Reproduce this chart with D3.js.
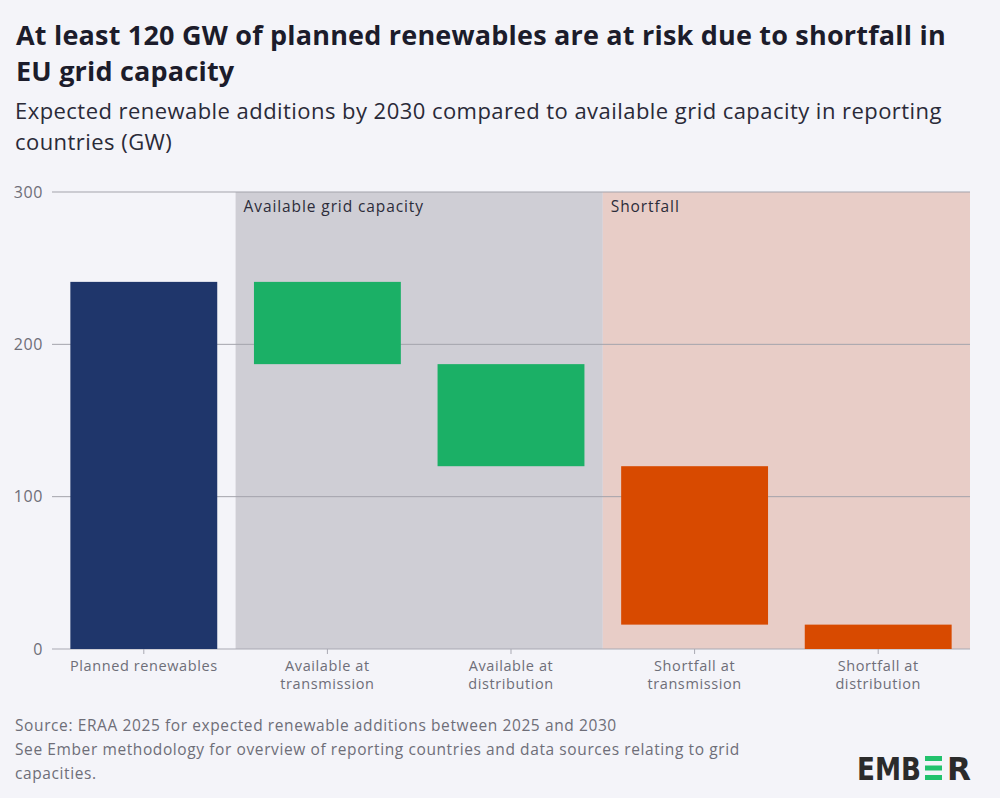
<!DOCTYPE html>
<html>
<head>
<meta charset="utf-8">
<script src="https://cdn.jsdelivr.net/npm/d3@7"></script>
<style>
  body { margin: 0; background: #f4f4f9; }
  svg { display: block; font-family: "Open Sans", "Inter", sans-serif; }
</style>
</head>
<body>
<div id="chart"></div>
<script>
const categories = [
  ["Planned renewables"],
  ["Available at", "transmission"],
  ["Available at", "distribution"],
  ["Shortfall at", "transmission"],
  ["Shortfall at", "distribution"]
];
const barTops = [241, 241, 187, 120, 16];
const barBottoms = [0, 187, 120, 16, 0];
const barKinds = ["planned", "available", "available", "shortfall", "shortfall"];
const yTicks = [0, 100, 200, 300];
const regions = [
  { label: "Available grid capacity", from: 1, to: 2, kind: "available" },
  { label: "Shortfall", from: 3, to: 4, kind: "shortfall" }
];

const width = 1000, height = 798;
const margin = { left: 52, right: 30, top: 192, bottom: 149 };
const colors = { planned: "#1f366b", available: "#1bb066", shortfall: "#d84a00" };
const regionFill = { available: "#cfced5", shortfall: "#e8cdc7" };

const svg = d3.select("#chart").append("svg")
  .attr("width", width).attr("height", height);

svg.append("rect").attr("width", width).attr("height", height).attr("fill", "#f4f4f9");

// title + subtitle
const title = svg.append("text").attr("fill", "#1c1c2b")
  .style("font-weight", 700).style("font-size", "27px").style("letter-spacing", "0.2px");
title.append("tspan").attr("x", 16).attr("y", 45)
  .text("At least 120 GW of planned renewables are at risk due to shortfall in");
title.append("tspan").attr("x", 16).attr("y", 81).text("EU grid capacity");

const sub = svg.append("text").attr("fill", "#2a2a38")
  .style("font-size", "22px").style("letter-spacing", "0.45px");
sub.append("tspan").attr("x", 15).attr("y", 119)
  .text("Expected renewable additions by 2030 compared to available grid capacity in reporting");
sub.append("tspan").attr("x", 15).attr("y", 150).text("countries (GW)");

const x = d3.scaleBand()
  .domain(d3.range(categories.length))
  .range([margin.left, width - margin.right])
  .paddingInner(0.2)
  .paddingOuter(0.1);

const y = d3.scaleLinear()
  .domain([0, 300])
  .range([height - margin.bottom, margin.top]);

const halfGap = x.step() * x.paddingInner() / 2;

// shaded regions
svg.selectAll("rect.region").data(regions).enter().append("rect")
  .attr("class", "region")
  .attr("x", d => x(d.from) - halfGap)
  .attr("width", d => x(d.to) + x.bandwidth() + halfGap - (x(d.from) - halfGap))
  .attr("y", y(300))
  .attr("height", y(0) - y(300))
  .attr("fill", d => regionFill[d.kind]);

svg.selectAll("text.region-label").data(regions).enter().append("text")
  .attr("x", d => x(d.from) - halfGap + 8)
  .attr("y", y(300) + 20)
  .attr("fill", "#2c2c3a")
  .style("font-size", "15.5px").style("letter-spacing", "0.9px")
  .text(d => d.label);

// grid
svg.selectAll("line.grid").data(yTicks).enter().append("line")
  .attr("x1", margin.left).attr("x2", width - margin.right)
  .attr("y1", d => y(d)).attr("y2", d => y(d))
  .attr("stroke", d => d === 0 ? "#a9a9b3" : "#a3a3ab")
  .attr("stroke-width", 1);

svg.selectAll("text.ytick").data(yTicks).enter().append("text")
  .attr("x", 43).attr("y", d => y(d)).attr("dy", "0.35em")
  .attr("text-anchor", "end").attr("fill", "#6e6e78")
  .style("font-size", "16px").style("letter-spacing", "0.6px")
  .text(d => d);

// bars
svg.selectAll("rect.bar").data(barTops).enter().append("rect")
  .attr("x", (d, i) => x(i))
  .attr("width", x.bandwidth())
  .attr("y", d => y(d))
  .attr("height", (d, i) => y(barBottoms[i]) - y(d))
  .attr("fill", (d, i) => colors[barKinds[i]]);

// x ticks + labels
const xt = svg.selectAll("g.xtick").data(categories).enter().append("g")
  .attr("transform", (d, i) => `translate(${x(i) + x.bandwidth() / 2},${y(0)})`);
xt.append("line").attr("y2", 5).attr("stroke", "#a9a9b3");
xt.append("text").attr("text-anchor", "middle").attr("fill", "#6e6e78")
  .style("font-size", "14.5px").style("letter-spacing", "0.6px")
  .selectAll("tspan").data(d => d).enter().append("tspan")
  .attr("x", 0).attr("y", (d, i) => 22 + i * 18).text(d => d);

// source
const src = svg.append("text").attr("fill", "#6e6e78")
  .style("font-size", "15.5px").style("letter-spacing", "0.6px");
[["Source: ERAA 2025 for expected renewable additions between 2025 and 2030", 731],
 ["See Ember methodology for overview of reporting countries and data sources relating to grid", 755],
 ["capacities.", 779]].forEach(([t, yy]) => src.append("tspan").attr("x", 15).attr("y", yy).text(t));

// logo
const logo = svg.append("g").attr("transform", "translate(857,780)");
logo.append("text").attr("fill", "#2b2b2b")
  .style("font-family", "'DejaVu Sans', sans-serif").style("font-weight", 700)
  .style("font-size", "32px").attr("textLength", 64).attr("lengthAdjust", "spacingAndGlyphs")
  .text("EMB");
[0, 1, 2].forEach(k => logo.append("rect")
  .attr("x", 68).attr("y", -24 + k * 9.5).attr("width", 17).attr("height", 5)
  .attr("fill", "#22c26d"));
logo.append("text").attr("x", 90).attr("fill", "#2b2b2b")
  .style("font-family", "'DejaVu Sans', sans-serif").style("font-weight", 700)
  .style("font-size", "32px").attr("textLength", 24).attr("lengthAdjust", "spacingAndGlyphs")
  .text("R");
</script>
</body>
</html>
